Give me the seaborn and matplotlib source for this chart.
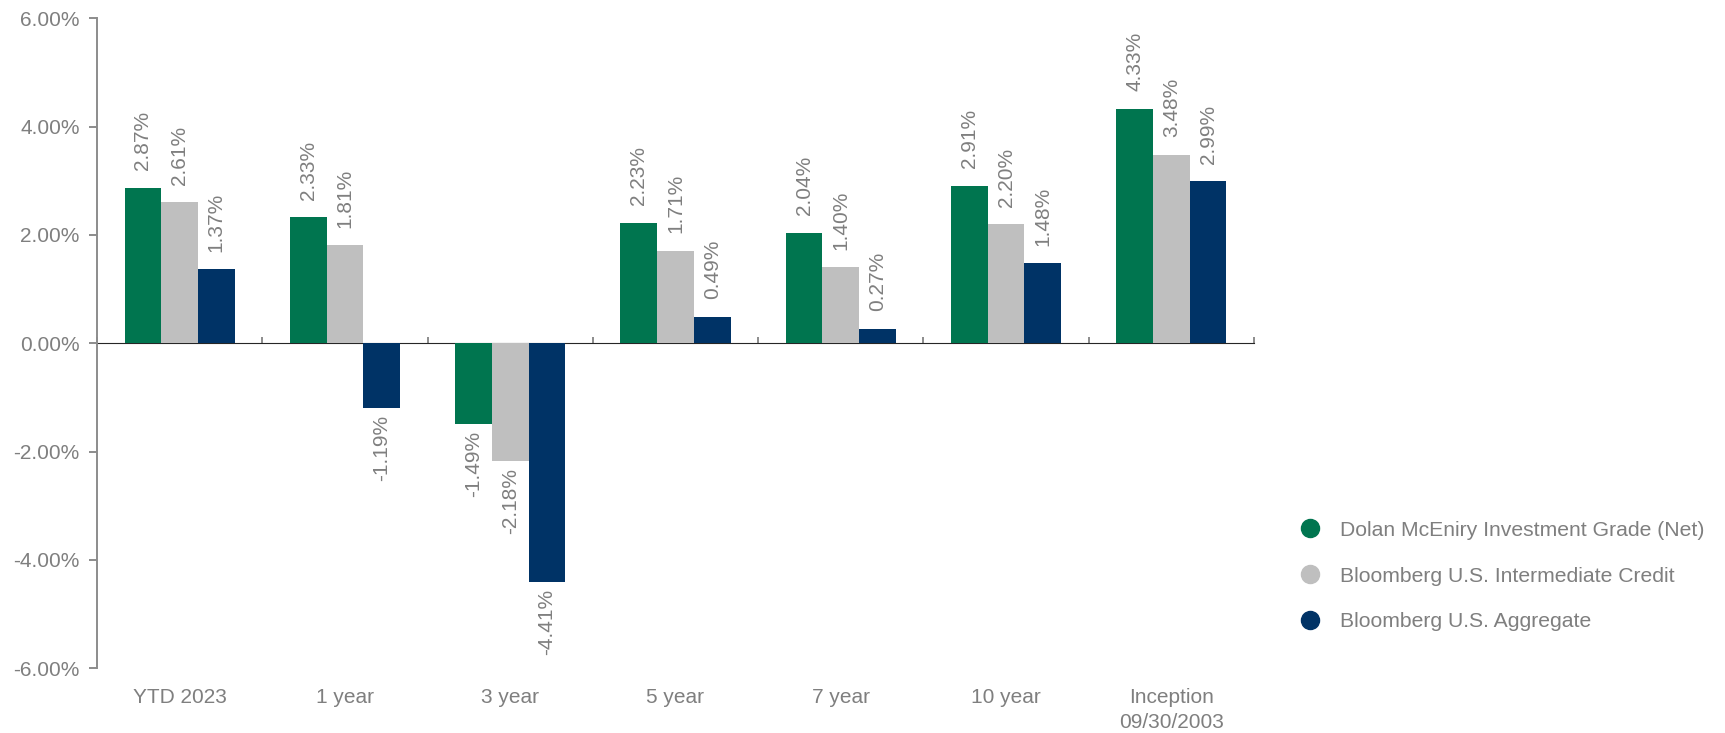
import numpy as np
import pandas as pd
import matplotlib
matplotlib.use("Agg")
import matplotlib.pyplot as plt
import seaborn as sns
from matplotlib.lines import Line2D
from matplotlib.ticker import FuncFormatter

categories = ["YTD 2023", "1 year", "3 year", "5 year", "7 year", "10 year", "Inception\n09/30/2003"]
series_names = ["Dolan McEniry Investment Grade (Net)",
                "Bloomberg U.S. Intermediate Credit",
                "Bloomberg U.S. Aggregate"]
dolan = [2.87, 2.33, -1.49, 2.23, 2.04, 2.91, 4.33]
interm = [2.61, 1.81, -2.18, 1.71, 1.40, 2.20, 3.48]
agg = [1.37, -1.19, -4.41, 0.49, 0.27, 1.48, 2.99]
colors = ["#00754F", "#BFBFBF", "#003366"]
yticks = [-6, -4, -2, 0, 2, 4, 6]

rows = []
for name, vals in zip(series_names, [dolan, interm, agg]):
    for c, v in zip(categories, vals):
        rows.append({"period": c, "value": v, "series": name})
df = pd.DataFrame(rows)

sns.set_style("white")
plt.rcParams["font.family"] = ["Liberation Sans", "DejaVu Sans"]
TXT = "#7F7F7F"
AX = "#8C8C8C"
FS = 15

fig = plt.figure(figsize=(17.25, 7.33), dpi=100)
ax = fig.add_axes([97/1725, 1-668.3/733, (1254-97)/1725, (668.3-18.3)/733])

sns.barplot(data=df, x="period", y="value", hue="series", order=categories,
            hue_order=series_names, palette=colors, width=0.666, saturation=1,
            legend=False, ax=ax, linewidth=0, errorbar=None)

for cont, vals in zip(ax.containers, [dolan, interm, agg]):
    pos_labels = [f"{v:.2f}%" if v >= 0 else "" for v in vals]
    neg_labels = [f"{v:.2f}%" if v < 0 else "" for v in vals]
    ax.bar_label(cont, labels=pos_labels, rotation=90,
                 padding=12.5, fontsize=FS, color=TXT)
    ax.bar_label(cont, labels=neg_labels, rotation=90,
                 padding=5.0, fontsize=FS, color=TXT)

ax.set_xlim(-0.5, 6.5)
ax.set_ylim(-6, 6)
ax.set_yticks(yticks)
ax.yaxis.set_major_formatter(FuncFormatter(lambda v, p: f"{v:.2f}%".replace("\u2212", "-")))
ax.set_xlabel("")
ax.set_ylabel("")
for s in ["top", "right", "bottom"]:
    ax.spines[s].set_visible(False)
ax.spines["left"].set_color(AX)
ax.spines["left"].set_linewidth(1.4)
ax.tick_params(axis="y", which="major", direction="out", length=5.5, width=1.4,
               color=AX, labelcolor=TXT, labelsize=FS, pad=7, left=True)
ax.tick_params(axis="x", length=0, labelcolor=TXT, labelsize=FS, pad=14.5)
for lab in ax.get_xticklabels():
    lab.set_linespacing(1.4)

sec = ax.secondary_xaxis(0.5)
sec.set_xticks(np.arange(-0.5, 7.0, 1.0))
sec.set_xticklabels([])
sec.spines["bottom"].set_color(AX)
sec.spines["bottom"].set_linewidth(1.4)
sec.tick_params(axis="x", direction="out", length=4, width=1.4, color=AX)

handles = [Line2D([], [], linestyle="none", marker="o", markersize=13,
                  markerfacecolor=c, markeredgecolor=c) for c in colors]
fig.legend(handles, series_names, loc="center left",
           bbox_to_anchor=(1299/1725, 1-576/733), frameon=False,
           fontsize=15.2, labelcolor=TXT, handlelength=1.0, handletextpad=0.95,
           labelspacing=1.27, borderpad=0, borderaxespad=0)

fig.savefig("out.png", dpi=100)
